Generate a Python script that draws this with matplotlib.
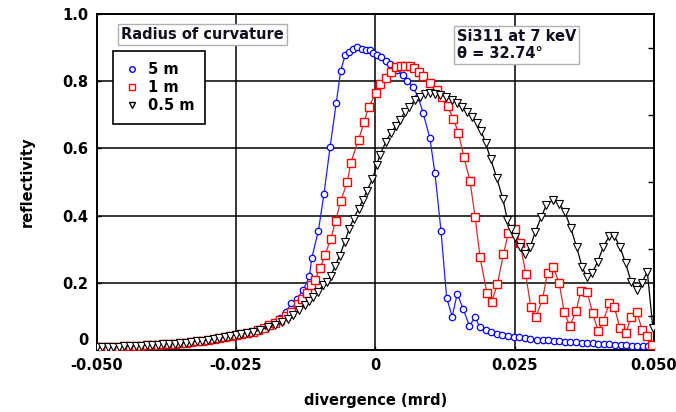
import matplotlib
matplotlib.use("Agg")
import matplotlib.pyplot as plt
from matplotlib.lines import Line2D
from matplotlib.ticker import MultipleLocator
from matplotlib.transforms import ScaledTranslation

# left tail shared by all three curves
tail_x = [-0.050, -0.049, -0.048, -0.047, -0.046, -0.045, -0.044, -0.043, -0.042, -0.041,
          -0.040, -0.039, -0.038, -0.037, -0.036, -0.035, -0.034, -0.033, -0.032, -0.031,
          -0.030, -0.029, -0.028, -0.027, -0.026, -0.025, -0.024, -0.023, -0.022]
tail_y = [0.008, 0.009, 0.009, 0.010, 0.010, 0.011, 0.012, 0.012, 0.013, 0.014,
          0.015, 0.016, 0.017, 0.018, 0.019, 0.020, 0.022, 0.024, 0.026, 0.028,
          0.030, 0.033, 0.035, 0.038, 0.041, 0.045, 0.048, 0.050, 0.053]

# 5 m
x5 = [-0.021, -0.020, -0.019, -0.018, -0.017, -0.016, -0.0151, -0.0141, -0.0129, -0.0118,
      -0.0114, -0.0102, -0.0092, -0.0081, -0.0070, -0.0062, -0.0054, -0.0047, -0.0040, -0.0032,
      -0.0024, -0.0017, -0.0010, -0.0004, 0.0003, 0.0010, 0.0019, 0.0026, 0.0039, 0.0049,
      0.0057, 0.0067, 0.0077, 0.0086, 0.0098, 0.0107, 0.0118, 0.0128, 0.0138, 0.0147,
      0.0158, 0.0169, 0.0179, 0.0188, 0.0198, 0.0208, 0.0218, 0.0228, 0.0238, 0.0248,
      0.0258, 0.0268, 0.0278, 0.029, 0.030, 0.031, 0.032, 0.033, 0.034, 0.035,
      0.036, 0.037, 0.038, 0.039, 0.040, 0.041, 0.042, 0.043, 0.044, 0.045,
      0.046, 0.047, 0.048, 0.049, 0.050]
y5 = [0.058, 0.064, 0.072, 0.082, 0.094, 0.112, 0.140, 0.151, 0.179, 0.220,
      0.273, 0.355, 0.464, 0.604, 0.735, 0.831, 0.878, 0.887, 0.895, 0.903,
      0.895, 0.893, 0.893, 0.884, 0.878, 0.873, 0.861, 0.850, 0.833, 0.817,
      0.801, 0.784, 0.753, 0.704, 0.631, 0.527, 0.354, 0.156, 0.099, 0.168,
      0.121, 0.071, 0.098, 0.067, 0.060, 0.053, 0.048, 0.045, 0.042, 0.040,
      0.038, 0.035, 0.032, 0.031, 0.030, 0.029, 0.027, 0.026, 0.025, 0.024,
      0.023, 0.022, 0.021, 0.020, 0.019, 0.018, 0.017, 0.016, 0.015, 0.014,
      0.013, 0.012, 0.012, 0.011, 0.011]

# 1 m
x1 = [-0.021, -0.020, -0.019, -0.018, -0.017, -0.016, -0.0152, -0.0139, -0.0131, -0.0123,
      -0.0115, -0.0108, -0.0099, -0.0090, -0.0080, -0.0071, -0.0062, -0.0050, -0.0044, -0.0030,
      -0.0020, -0.0012, 0.0001, 0.0008, 0.0019, 0.0029, 0.0038, 0.0046, 0.0054, 0.0062,
      0.0069, 0.0078, 0.0086, 0.0098, 0.0110, 0.0119, 0.0130, 0.0140, 0.0149, 0.0159,
      0.0170, 0.0179, 0.0188, 0.0200, 0.0209, 0.0219, 0.0230, 0.0239, 0.0251, 0.0260,
      0.0270, 0.0279, 0.0288, 0.0300, 0.0309, 0.0319, 0.0330, 0.0339, 0.0349, 0.0360,
      0.0369, 0.0380, 0.0390, 0.0400, 0.0409, 0.0420, 0.0429, 0.0439, 0.0450, 0.0458,
      0.0469, 0.0479, 0.0488, 0.0497]
y1 = [0.060, 0.066, 0.073, 0.080, 0.090, 0.100, 0.114, 0.136, 0.151, 0.169,
      0.193, 0.208, 0.243, 0.283, 0.330, 0.384, 0.443, 0.501, 0.557, 0.625,
      0.679, 0.722, 0.764, 0.791, 0.809, 0.828, 0.841, 0.844, 0.844, 0.844,
      0.838, 0.827, 0.814, 0.796, 0.774, 0.753, 0.725, 0.688, 0.647, 0.574,
      0.503, 0.397, 0.276, 0.171, 0.144, 0.196, 0.286, 0.349, 0.359, 0.318,
      0.226, 0.127, 0.097, 0.151, 0.230, 0.248, 0.199, 0.112, 0.071, 0.115,
      0.176, 0.174, 0.109, 0.057, 0.087, 0.139, 0.127, 0.065, 0.050, 0.097,
      0.112, 0.060, 0.042, 0.015]

# 0.5 m
x05 = [-0.0206, -0.0193, -0.0180, -0.0167, -0.0157, -0.0147, -0.0136, -0.0126, -0.0118, -0.0111,
       -0.0102, -0.0094, -0.0086, -0.0080, -0.0072, -0.0064, -0.0055, -0.0047, -0.0039, -0.0030,
       -0.0022, -0.0015, -0.0005, 0.0003, 0.0008, 0.0019, 0.0028, 0.0037, 0.0044, 0.0053,
       0.0060, 0.0071, 0.0080, 0.0089, 0.0098, 0.0107, 0.0116, 0.0127, 0.0137, 0.0147,
       0.0156, 0.0165, 0.0174, 0.0182, 0.0190, 0.0198, 0.0207, 0.0218, 0.0229, 0.0237,
       0.0243, 0.0251, 0.0259, 0.0268, 0.0278, 0.0287, 0.0298, 0.0307, 0.0318, 0.0330,
       0.0340, 0.0351, 0.0361, 0.0371, 0.0379, 0.0389, 0.0399, 0.0409, 0.0420, 0.0429,
       0.0439, 0.0449, 0.0459, 0.0469, 0.0478, 0.0488, 0.0498]
y05 = [0.060, 0.068, 0.074, 0.082, 0.092, 0.104, 0.119, 0.134, 0.146, 0.159,
       0.174, 0.193, 0.203, 0.220, 0.250, 0.280, 0.320, 0.360, 0.390, 0.420,
       0.447, 0.473, 0.509, 0.551, 0.580, 0.619, 0.646, 0.667, 0.685, 0.708,
       0.723, 0.744, 0.753, 0.762, 0.765, 0.763, 0.760, 0.754, 0.745, 0.735,
       0.723, 0.708, 0.694, 0.676, 0.652, 0.616, 0.568, 0.512, 0.449, 0.387,
       0.360, 0.335, 0.307, 0.286, 0.307, 0.351, 0.397, 0.432, 0.446, 0.436,
       0.411, 0.362, 0.307, 0.248, 0.218, 0.228, 0.263, 0.307, 0.339, 0.339,
       0.307, 0.258, 0.203, 0.179, 0.199, 0.233, 0.065]

labels = ["5 m", "1 m", "0.5 m"]
yticks = [0, 0.2, 0.4, 0.6, 0.8, 1.0]
ytick_labels = ["0", "0.2", "0.4", "0.6", "0.8", "1.0"]
xticks = [-0.05, -0.025, 0, 0.025, 0.05]
xtick_labels = ["-0.050", "-0.025", "0", "0.025", "0.050"]

plt.rcParams['font.family'] = ['DejaVu Sans']

fig = plt.figure(figsize=(6.76, 4.12), dpi=100)
ax = fig.add_axes([96.5/676, 1-350/412, 557.5/676, 336/412])

ax.plot(tail_x + x5, tail_y + y5, color="#2020ff", lw=0.9, marker="o", ms=4.6,
        mfc="white", mec="#0000ff", mew=0.9, zorder=3)
ax.plot(tail_x + x1, tail_y + y1, color="#c83030", lw=0.9, marker="s", ms=6.2,
        mfc="white", mec="#ff0000", mew=1.0, zorder=4)
ax.plot(tail_x + x05, tail_y + y05, color="black", lw=0.9, marker="v", ms=5.6,
        mfc="white", mec="black", mew=0.8, zorder=5)

ax.set_xlim(-0.05, 0.05)
ax.set_ylim(0, 1.0)
ax.set_xticks(xticks)
ax.set_xticklabels(xtick_labels, fontweight="bold", fontsize=10.5)
ax.set_yticks(yticks)
ax.set_yticklabels(ytick_labels, fontweight="bold", fontsize=10.5)
ax.yaxis.set_minor_locator(MultipleLocator(0.1))
ax.tick_params(which="major", direction="in", length=3, width=1, pad=6)
ax.tick_params(which="minor", left=False, right=True, direction="in", length=4, width=1)
ax.grid(True, which="major", color="black", lw=1.1)
for s in ax.spines.values():
    s.set_linewidth(1.4)
# zero label on y sits a little higher than its tick
lab0 = ax.get_yticklabels()[0]
lab0.set_transform(lab0.get_transform() + ScaledTranslation(0, 8/72, fig.dpi_scale_trans))

ax.set_xlabel("divergence (mrd)", fontweight="bold", fontsize=10.5, labelpad=14)
ax.set_ylabel("reflectivity", fontweight="bold", fontsize=10.5, labelpad=20)

ax.text(0.19, 0.94, "Radius of curvature", transform=ax.transAxes, ha="center", va="center",
        fontsize=10.5, fontweight="bold", color="#101020", zorder=10,
        bbox=dict(boxstyle="square,pad=0.2", fc="white", ec="#b0b0b0", lw=1))

handles = [Line2D([], [], ls="none", marker="o", ms=4, mfc="white", mec="#0000ff"),
           Line2D([], [], ls="none", marker="s", ms=5, mfc="white", mec="#ff0000"),
           Line2D([], [], ls="none", marker="v", ms=4.5, mfc="white", mec="black")]
leg = ax.legend(handles, labels, loc="upper left", bbox_to_anchor=(0.0296, 0.89),
                borderaxespad=0, fancybox=False, framealpha=1, edgecolor="black",
                prop=dict(weight="bold", size=10.5), borderpad=0.75, labelspacing=0.2,
                handlelength=1.1, handletextpad=0.55, numpoints=1)
leg.get_frame().set_linewidth(1.2)
leg.set_zorder(10)

ax.text(0.647, 0.908, "Si311 at 7 keV\n\u03b8 = 32.74\u00b0", transform=ax.transAxes,
        ha="left", va="center", fontsize=10.5, fontweight="bold", color="#101020",
        linespacing=1.15, zorder=10,
        bbox=dict(boxstyle="square,pad=0.2", fc="white", ec="#b0b0b0", lw=1))

fig.savefig("out.png", dpi=100)
